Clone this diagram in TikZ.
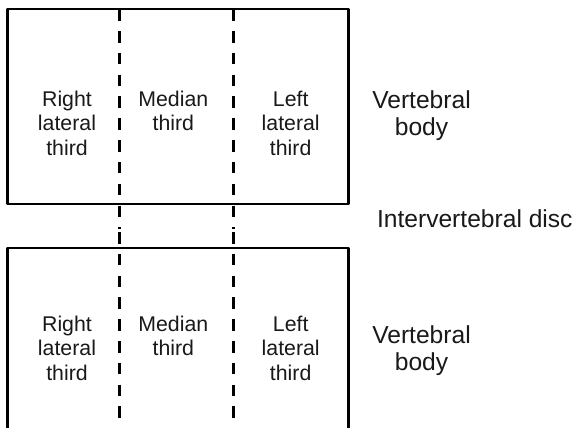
\documentclass[tikz,border=0pt]{standalone}
\usepackage{fontspec}
\setmainfont{Liberation Sans}
\begin{document}
\begin{tikzpicture}[x=1pt,y=-1pt,
  bodybox/.style={line width=2.3pt, line join=round},
  divider/.style={line width=3pt, dash pattern=on 11.5pt off 10.3pt, black},
  third/.style={inner sep=0pt, anchor=north, align=center,
    font=\fontsize{21.3}{24.5}\selectfont, text=black!90},
  side/.style={inner sep=0pt, anchor=north, align=center,
    font=\fontsize{24.6}{27.3}\selectfont, text=black!90}]
\useasboundingbox (0,0) rectangle (576,428);
\fill[white] (0,0) rectangle (576,428);

% vertebral bodies
\draw[bodybox] (7.5,9.3) rectangle (348.5,204);
\draw[bodybox] (7.5,431) -- (7.5,247.7) -- (348.5,247.7) -- (348.5,431);
\draw[bodybox, black!40] (7.5,428.8) -- (348.5,428.8);

% dividing lines between the thirds
\coordinate (d1a) at (119.5,9.3);  \coordinate (d1b) at (119.5,229);
\coordinate (d1c) at (119.5,232);  \coordinate (d1d) at (119.5,432);
\coordinate (d2a) at (233,9.3);    \coordinate (d2b) at (233,229);
\coordinate (d2c) at (233,232);    \coordinate (d2d) at (233,432);
\draw[divider] (d1a) -- (d1b);
\draw[divider] (d1c) -- (d1d);
\draw[divider] (d2a) -- (d2b);
\draw[divider] (d2c) -- (d2d);

% upper body labels
\node[third] (rt1) at (67,90.7) {Right\\lateral\\third};
\node[third] (md1) at (173.3,90.7) {Median\\third};
\node[third] (lt1) at (290.7,90.7) {Left\\lateral\\third};

% lower body labels
\node[third] (rt2) at (67,315.7) {Right\\lateral\\third};
\node[third] (md2) at (173.3,315.7) {Median\\third};
\node[third] (lt2) at (290.7,315.7) {Left\\lateral\\third};

% side labels
\node[side] (vb1) at (421.5,90.1) {Vertebral\\body};
\node[side] (ivd) at (474.8,209.7) {Intervertebral disc};
\node[side] (vb2) at (421.5,325.1) {Vertebral\\body};
\end{tikzpicture}
\end{document}
